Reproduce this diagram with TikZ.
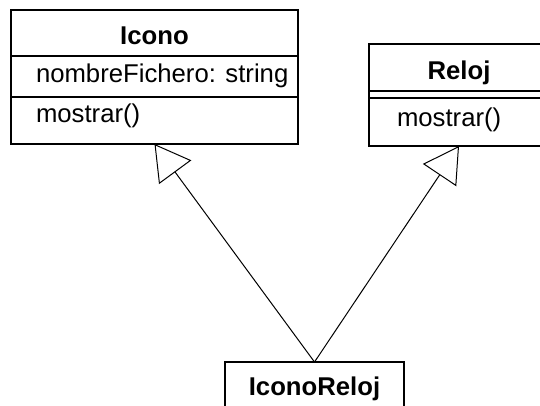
\documentclass[tikz,border=0pt]{standalone}
\usepackage{fontspec}
\setmainfont{Liberation Sans}
\usetikzlibrary{arrows.meta}

\begin{document}
\begin{tikzpicture}[
    x=1pt, y=-1pt,
    every node/.style={inner sep=0pt, outer sep=0pt, font=\fontsize{25.7}{30}\selectfont},
    classbox/.style={draw=black, line width=1.2pt, fill=white, rectangle, anchor=north west},
    classname/.style={font=\fontsize{25.7}{30}\selectfont\bfseries},
    member/.style={anchor=base west},
    sep/.style={line width=1.2pt},
    inherit/.style={line width=1pt, -{Triangle[open, length=35pt, width=40pt, line width=1pt, fill=white]}}
  ]
  \clip (0,0) rectangle (540,406);
  \fill[white] (0,0) rectangle (540,406);

  % class Icono
  \node[classbox, minimum width=287pt, minimum height=134pt] (icono) at (11,10) {};
  \coordinate (icono-s1) at (11,56);
  \coordinate (icono-s2) at (11,97);
  \draw[sep] (icono-s1) -- (icono-s1 -| icono.east);
  \draw[sep] (icono-s2) -- (icono-s2 -| icono.east);
  \node[classname, anchor=base] (icono-name) at (154.5,45) {Icono};
  \node[member] (icono-attr) at (36,83) {nombreFichero: string};
  \node[member] (icono-op) at (36,123) {mostrar()};

  % class Reloj (no attributes)
  \node[classbox, minimum width=180pt, minimum height=102pt] (reloj) at (369,44) {};
  \coordinate (reloj-s1) at (369,91);
  \coordinate (reloj-s2) at (369,98);
  \draw[sep] (reloj-s1) -- (reloj-s1 -| reloj.east);
  \draw[sep] (reloj-s2) -- (reloj-s2 -| reloj.east);
  \node[classname, anchor=base] (reloj-name) at (459,80) {Reloj};
  \node[member] (reloj-op) at (397,127) {mostrar()};

  % class IconoReloj
  \node[classbox, minimum width=179pt, minimum height=48pt] (iconoreloj) at (225,362) {};
  \node[classname, anchor=base] (iconoreloj-name) at (314.5,395) {IconoReloj};

  % generalizations
  \draw[inherit] (iconoreloj.north) -- (icono.south);
  \draw[inherit] (iconoreloj.north) -- (reloj.south);
\end{tikzpicture}
\end{document}
